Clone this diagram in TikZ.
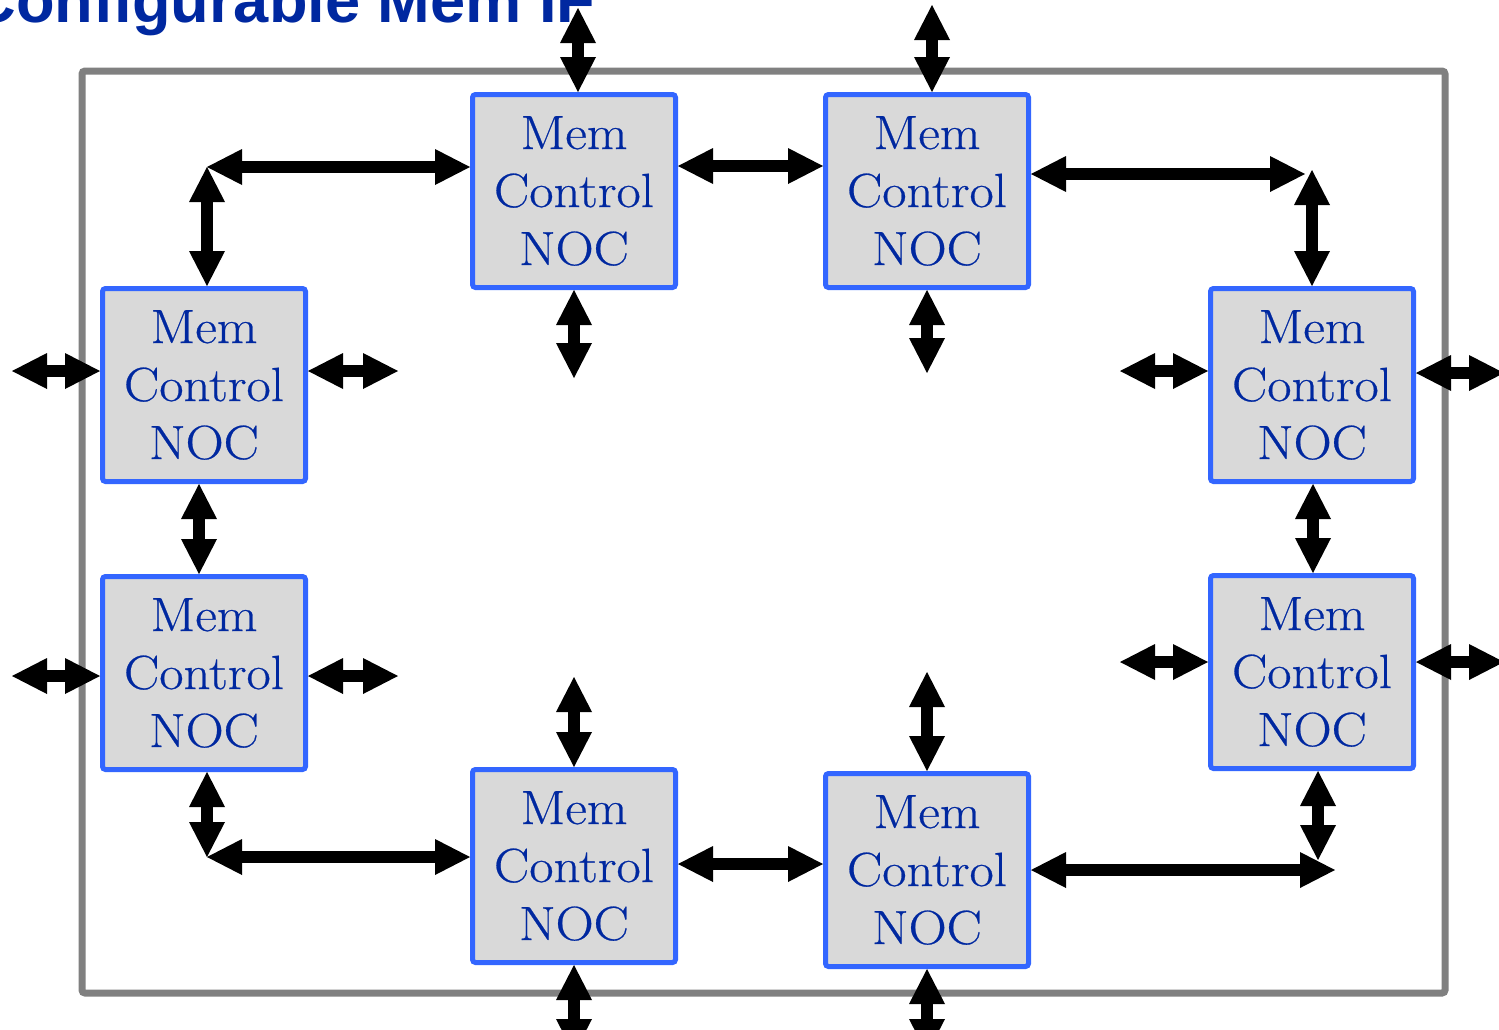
\documentclass[tikz,border=0pt]{standalone}
\usepackage{fontspec}
\setsansfont{Liberation Sans}
\newfontfamily\boxfont{Latin Modern Roman}[FakeStretch=1.1,FakeBold=0.5]
\usetikzlibrary{arrows.meta}
\definecolor{boxblue}{RGB}{51,102,255}
\definecolor{boxgray}{RGB}{217,217,217}
\definecolor{txtblue}{RGB}{0,40,160}
\definecolor{framegray}{RGB}{128,128,128}
\tikzset{
  memctl/.style={draw=boxblue, line width=2.5pt, fill=boxgray,
    minimum width=101.5pt, minimum height=96.5pt, inner sep=0pt,
    rounded corners=1.5pt, align=center, text=txtblue,
    font=\boxfont\fontsize{24pt}{29pt}\selectfont},
  biarrow/.style={line width=6pt,
    {Triangle[width=18pt,length=17.5pt,line width=0pt]}-{Triangle[width=18pt,length=17.5pt,line width=0pt]}},
  frame/.style={draw=framegray, line width=3.5pt, rounded corners=1.5pt}
}
\begin{document}
\begin{tikzpicture}[x=0.5pt,y=-0.5pt]
\clip (0,0) rectangle (1499,1029);

% title
\node[anchor=base east, inner sep=0pt, text=txtblue,
  font=\sffamily\bfseries\fontsize{31.6pt}{38pt}\selectfont] (title) at (596,22) {Configurable Mem IF};

% chip outline
\draw[frame] (82,71) rectangle (1445,993);

% memory controller blocks
\node[memctl] (A) at (574,191) {Mem\\Control\\NOC};
\node[memctl] (B) at (927,191) {Mem\\Control\\NOC};
\node[memctl] (C) at (204,385) {Mem\\Control\\NOC};
\node[memctl] (D) at (204,673) {Mem\\Control\\NOC};
\node[memctl] (E) at (1312,385) {Mem\\Control\\NOC};
\node[memctl] (F) at (1312,672) {Mem\\Control\\NOC};
\node[memctl] (G) at (574,866) {Mem\\Control\\NOC};
\node[memctl] (H) at (927,870) {Mem\\Control\\NOC};

% free ends and bends of the links
\coordinate (tA) at (578,8);
\coordinate (tB) at (932,5);
\coordinate (cNW) at (207,167);
\coordinate (ab) at (750,166);
\coordinate (cNE) at (1305,174);
\coordinate (cNE2) at (1312,170);
\coordinate (sA) at (574,378);
\coordinate (sB) at (927,373);
\coordinate (cL) at (12,371);
\coordinate (cR) at (398,371);
\coordinate (cd) at (199,530);
\coordinate (dL) at (12,676);
\coordinate (dR) at (398,676);
\coordinate (cSW) at (207,857);
\coordinate (nG) at (574,677);
\coordinate (gh) at (750,864);
\coordinate (bG) at (574,1054);
\coordinate (nH) at (927,672);
\coordinate (bH) at (927,1054);
\coordinate (cSE) at (1335,870);
\coordinate (sF) at (1318,860);
\coordinate (eL) at (1120,371);
\coordinate (eR) at (1504,373);
\coordinate (ef) at (1313,530);
\coordinate (fL) at (1120,662);
\coordinate (fR) at (1504,662);

% links
\draw[biarrow] (tA) -- (tA |- A.north);
\draw[biarrow] (tB) -- (tB |- B.north);
\draw[biarrow] (cNW) -- (cNW -| A.west);
\draw[biarrow] (cNW) -- (cNW |- C.north);
\draw[biarrow] (ab -| A.east) -- (ab -| B.west);
\draw[biarrow] (cNE -| B.east) -- (cNE);
\draw[biarrow] (cNE2) -- (cNE2 |- E.north);
\draw[biarrow] (A.south) -- (sA);
\draw[biarrow] (B.south) -- (sB);
\draw[biarrow] (cL) -- (cL -| C.west);
\draw[biarrow] (cR -| C.east) -- (cR);
\draw[biarrow] (cd |- C.south) -- (cd |- D.north);
\draw[biarrow] (dL) -- (dL -| D.west);
\draw[biarrow] (dR -| D.east) -- (dR);
\draw[biarrow] (cSW |- D.south) -- (cSW);
\draw[biarrow] (cSW) -- (cSW -| G.west);
\draw[biarrow] (nG) -- (G.north);
\draw[biarrow] (gh -| G.east) -- (gh -| H.west);
\draw[biarrow] (G.south) -- (bG);
\draw[biarrow] (nH) -- (H.north);
\draw[biarrow] (H.south) -- (bH);
\draw[biarrow] (cSE -| H.east) -- (cSE);
\draw[biarrow] (sF |- F.south) -- (sF);
\draw[biarrow] (eL) -- (eL -| E.west);
\draw[biarrow] (eR -| E.east) -- (eR);
\draw[biarrow] (ef |- E.south) -- (ef |- F.north);
\draw[biarrow] (fL) -- (fL -| F.west);
\draw[biarrow] (fR -| F.east) -- (fR);
\end{tikzpicture}
\end{document}
